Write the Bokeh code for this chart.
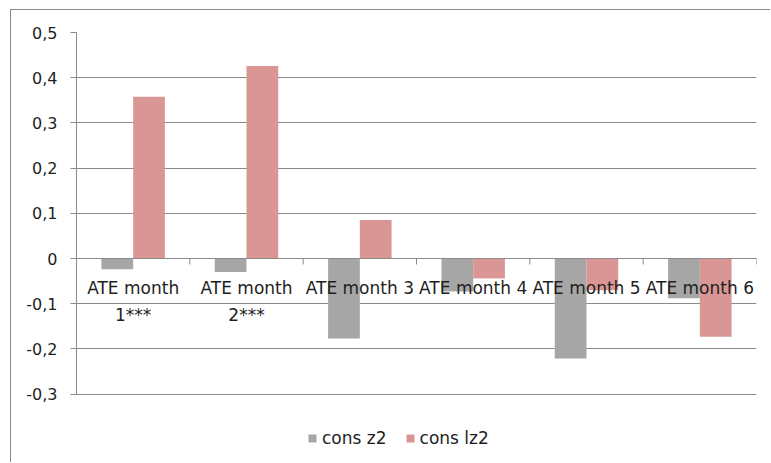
import math
from bokeh.plotting import figure
from bokeh.models import (Range1d, FixedTicker, CustomJSTickFormatter, ColumnDataSource,
                          Legend, LegendItem, Span)
from bokeh.transform import dodge
from bokeh.core.properties import value
from bokeh.embed import file_html
from bokeh.resources import INLINE

# ---- data ----
categories = ["ATE month 1***", "ATE month 2***", "ATE month 3",
              "ATE month 4", "ATE month 5", "ATE month 6"]
category_labels = ["ATE month\n1***", "ATE month\n2***", "ATE month 3",
                   "ATE month 4", "ATE month 5", "ATE month 6"]
cons_z2 = [-0.024, -0.030, -0.177, -0.073, -0.221, -0.088]
cons_lz2 = [0.358, 0.426, 0.085, -0.044, -0.070, -0.173]
y_ticks = [-0.3, -0.2, -0.1, 0.0, 0.1, 0.2, 0.3, 0.4, 0.5]

GRAY = "#a6a6a6"
PINK = "#d99694"
GRID = "#8a8a8a"
TEXT = "#1e1e1e"
FONT = "DejaVu Sans"

n = len(categories)
src = ColumnDataSource(dict(
    x=[i + 0.5 for i in range(n)],
    cat=categories,
    label=category_labels,
    z2=cons_z2,
    lz2=cons_lz2,
    zero=[0.0] * n,
))
bounds = ColumnDataSource(dict(x=list(range(n + 1)), y=[0.0] * (n + 1)))

# frame extends below -0.3 to leave room for the legend inside it
p = figure(width=770, height=462, output_backend="svg", toolbar_location=None,
           x_range=Range1d(0, n), y_range=Range1d(-0.4513, 0.5),
           min_border_left=76, min_border_right=14, min_border_top=32,
           min_border_bottom=0)
p.outline_line_color = None
p.background_fill_color = None
p.border_fill_color = None
p.styles = {"background": "linear-gradient(#8d8d8d,#8d8d8d) 10px 9px / 1px 100% no-repeat, "
                          "linear-gradient(#8d8d8d,#8d8d8d) 10px 9px / 100% 1px no-repeat, white"}

# grid
p.xgrid.grid_line_color = None
p.ygrid.ticker = FixedTicker(ticks=y_ticks)
p.ygrid.grid_line_color = GRID
p.ygrid.grid_line_width = 1

# y axis
p.yaxis.ticker = FixedTicker(ticks=y_ticks)
p.yaxis.bounds = (min(y_ticks), max(y_ticks))
p.yaxis.formatter = CustomJSTickFormatter(
    code="if (Math.abs(tick) < 1e-9) { return '0'; } return tick.toFixed(1).replace('.', ',');")
p.yaxis.axis_line_color = GRID
p.yaxis.major_tick_line_color = GRID
p.yaxis.major_tick_out = 6
p.yaxis.major_tick_in = 0
p.yaxis.minor_tick_line_color = None
p.yaxis.major_label_text_font = FONT
p.yaxis.major_label_text_font_size = "16px"
p.yaxis.major_label_text_color = TEXT
p.yaxis.major_label_standoff = 13

# horizontal axis drawn at zero line
p.xaxis.visible = False

# bars
r1 = p.vbar(x=dodge("x", -0.14, range=p.x_range), top="z2", bottom=0, width=0.28,
            source=src, fill_color=GRAY, line_color=None)
r2 = p.vbar(x=dodge("x", 0.14, range=p.x_range), top="lz2", bottom=0, width=0.28,
            source=src, fill_color=PINK, line_color=None)

p.add_layout(Span(location=0, dimension="width", line_color=GRID, line_width=1))
p.ray(x="x", y="y", length=6, length_units="screen", angle=-math.pi / 2,
      source=bounds, line_color=GRID, line_width=1)

# category labels near the zero line
p.text(x="x", y="zero", text="label", source=src, text_align="center",
       text_baseline="top", y_offset=19, text_font=value(FONT),
       text_font_size="17px", text_color=TEXT, text_line_height=1.35)

legend = Legend(items=[LegendItem(label="cons z2", renderers=[r1]),
                       LegendItem(label="cons lz2", renderers=[r2])],
                orientation="horizontal", location=(231, 14),
                glyph_width=10, glyph_height=10, label_standoff=5, spacing=18,
                padding=0, margin=0, border_line_color=None,
                label_text_font=FONT, label_text_font_size="17px",
                label_text_color=TEXT, background_fill_alpha=0)
p.add_layout(legend, "center")

open("out.html", "w").write(file_html(p, INLINE))
